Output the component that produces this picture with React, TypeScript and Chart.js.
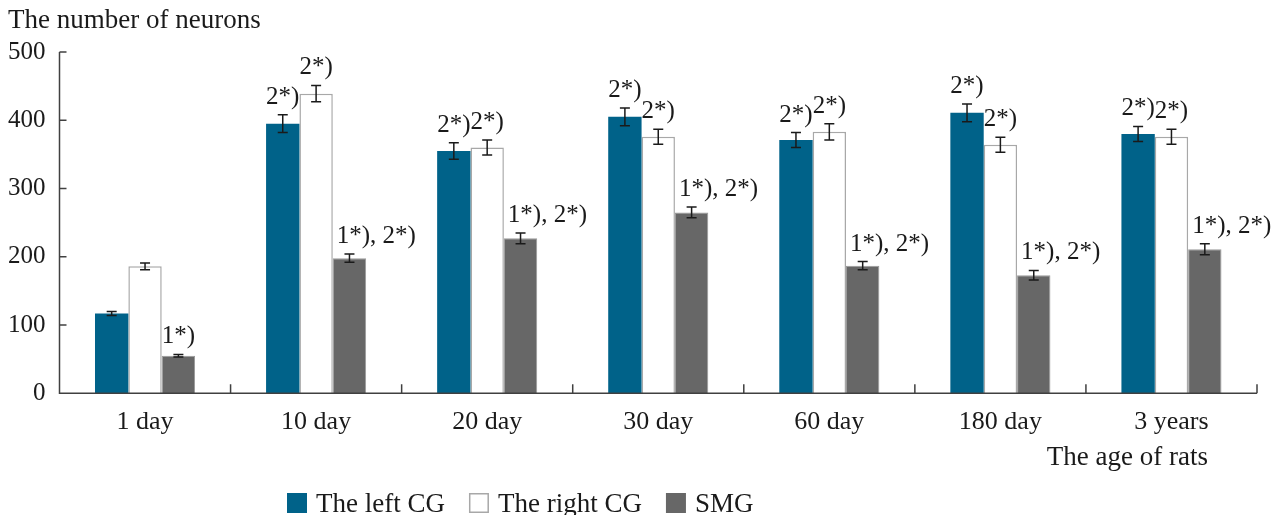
import React, { useEffect, useRef } from "react";
import { Chart, registerables } from "chart.js";

Chart.register(...registerables);

const categories = ["1 day", "10 day", "20 day", "30 day", "60 day", "180 day", "3 years"];
const leftCG = [117, 395, 355, 405, 371, 411, 380];
const leftCGErr = [3, 13, 12, 13, 11, 13, 11];
const rightCG = [186, 439, 360, 376, 383, 364, 376];
const rightCGErr = [5, 12, 11, 11, 12, 11, 11];
const smg = [55, 198, 227, 265, 187, 173, 211];
const smgErr = [2, 6, 8, 8, 6, 7, 8];
const leftNotes = ["", "2*)", "2*)", "2*)", "2*)", "2*)", "2*)"];
const rightNotes = ["", "2*)", "2*)", "2*)", "2*)", "2*)", "2*)"];
const smgNotes = ["1*)", "1*), 2*)", "1*), 2*)", "1*), 2*)", "1*), 2*)", "1*), 2*)", "1*), 2*)"];
const seriesNames = ["The left CG", "The right CG", "SMG"];
const yTitle = "The number of neurons";
const xTitle = "The age of rats";

const FONT_FAMILY = "'Liberation Serif', 'Times New Roman', serif";
const FONT_SIZE = 27;
const NOTE_SIZE = 25;
const TEXT_COLOR = "#1a1a1a";
const AXIS_COLOR = "#404040";
const COLORS = ["#006289", "#ffffff", "#676767"];
const BORDERS = ["#006289", "#a8a8a8", "#9a9a9a"];

const errs = [leftCGErr, rightCGErr, smgErr];
const notes = [leftNotes, rightNotes, smgNotes];

const decorPlugin = {
  id: "decor",
  afterDatasetsDraw(chart: any) {
    const ctx = chart.ctx;
    const yScale = chart.scales.y;
    const xScale = chart.scales.x;
    const area = chart.chartArea;
    ctx.save();
    // error bars
    ctx.strokeStyle = "#1a1a1a";
    ctx.lineWidth = 1.5;
    chart.data.datasets.forEach((ds: any, di: number) => {
      const meta = chart.getDatasetMeta(di);
      meta.data.forEach((el: any, i: number) => {
        const v = ds.data[i];
        const e = errs[di][i];
        const yt = yScale.getPixelForValue(v + e);
        const yb = yScale.getPixelForValue(v - e);
        const x = el.x;
        ctx.beginPath();
        ctx.moveTo(x, yt);
        ctx.lineTo(x, yb);
        ctx.moveTo(x - 5, yt);
        ctx.lineTo(x + 5, yt);
        ctx.moveTo(x - 5, yb);
        ctx.lineTo(x + 5, yb);
        ctx.stroke();
      });
    });
    // annotations
    ctx.fillStyle = TEXT_COLOR;
    ctx.font = `${NOTE_SIZE}px ${FONT_FAMILY}`;
    ctx.textBaseline = "alphabetic";
    chart.data.datasets.forEach((ds: any, di: number) => {
      const meta = chart.getDatasetMeta(di);
      meta.data.forEach((el: any, i: number) => {
        const t = notes[di][i];
        if (!t) return;
        const v = ds.data[i];
        const e = errs[di][i];
        const yt = yScale.getPixelForValue(v + e);
        if (t.indexOf(",") >= 0) {
          ctx.textAlign = "left";
          ctx.fillText(t, el.x - el.width / 2 + 4, yt - 11);
        } else {
          ctx.textAlign = "center";
          ctx.fillText(t, el.x, yt - 11);
        }
      });
    });
    // axes
    ctx.strokeStyle = AXIS_COLOR;
    ctx.lineWidth = 1.5;
    ctx.beginPath();
    ctx.moveTo(area.left, yScale.getPixelForValue(500));
    ctx.lineTo(area.left, area.bottom);
    ctx.lineTo(area.right, area.bottom);
    yScale.ticks.forEach((tk: any) => {
      const y = yScale.getPixelForValue(tk.value);
      ctx.moveTo(area.left, y);
      ctx.lineTo(area.left + 7, y);
    });
    const n = categories.length;
    for (let i = 1; i <= n; i++) {
      const x = i < n
        ? (xScale.getPixelForValue(i - 1) + xScale.getPixelForValue(i)) / 2
        : area.right;
      ctx.moveTo(x, area.bottom);
      ctx.lineTo(x, area.bottom - 9);
    }
    ctx.stroke();
    ctx.restore();
  },
  afterDraw(chart: any) {
    const ctx = chart.ctx;
    ctx.save();
    ctx.fillStyle = TEXT_COLOR;
    ctx.font = `${FONT_SIZE}px ${FONT_FAMILY}`;
    ctx.textBaseline = "alphabetic";
    ctx.textAlign = "left";
    ctx.fillText(yTitle, 8, 28);
    ctx.textAlign = "right";
    ctx.fillText(xTitle, 1208, 465);
    // legend
    let x = 287;
    const boxTop = 493;
    ctx.textAlign = "left";
    seriesNames.forEach((name, i) => {
      ctx.fillStyle = COLORS[i];
      ctx.fillRect(x, boxTop, 20, 20);
      if (i === 1) {
        ctx.strokeStyle = BORDERS[i];
        ctx.lineWidth = 1.5;
        ctx.strokeRect(x + 0.75, boxTop + 0.75, 18.5, 18.5);
      }
      x += 20 + 9;
      ctx.fillStyle = TEXT_COLOR;
      ctx.fillText(name, x, 512);
      x += ctx.measureText(name).width + 24;
    });
    ctx.restore();
  },
};

export default function App() {
  const ref = useRef<HTMLCanvasElement>(null);
  useEffect(() => {
    if (!ref.current) return;
    const chart = new Chart(ref.current, {
      type: "bar",
      data: {
        labels: categories,
        datasets: [leftCG, rightCG, smg].map((d, i) => ({
          label: seriesNames[i],
          data: d,
          backgroundColor: COLORS[i],
          borderColor: BORDERS[i],
          borderWidth: i === 0 ? 0 : i === 1 ? 1.5 : 1,
          categoryPercentage: 0.585,
          barPercentage: 1.0,
        })),
      },
      options: {
        responsive: false,
        animation: false,
        layout: { padding: { top: 52, right: 27, bottom: 0, left: 0 } },
        plugins: {
          legend: { display: false },
          title: { display: false },
          tooltip: { enabled: false },
        },
        scales: {
          x: {
            grid: { display: false },
            border: { display: false },
            ticks: { font: { family: FONT_FAMILY, size: 26 }, color: TEXT_COLOR, padding: 5 },
            afterFit: (s: any) => {
              s.height = 515 - 393.3;
            },
          },
          y: {
            min: 0,
            max: 500,
            grid: { display: false },
            border: { display: false },
            ticks: { stepSize: 100, font: { family: FONT_FAMILY, size: 25 }, color: TEXT_COLOR, padding: 6 },
            afterFit: (s: any) => {
              s.width = 59.5;
            },
          },
        },
      },
      plugins: [decorPlugin],
    });
    return () => chart.destroy();
  }, []);
  return (
    <div style={{ position: "fixed", left: 0, top: 0, width: 1284, height: 515, background: "#fff" }}>
      <canvas ref={ref} width={1284} height={515} style={{ display: "block" }} />
    </div>
  );
}
